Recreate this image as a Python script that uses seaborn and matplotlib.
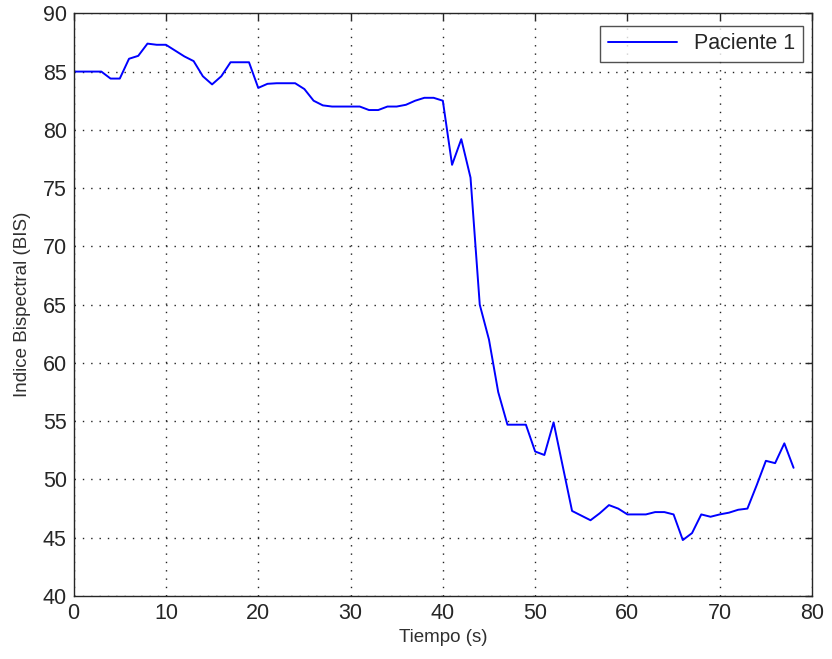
import matplotlib
matplotlib.use("Agg")
import matplotlib.pyplot as plt
import seaborn as sns
import pandas as pd

tiempo = list(range(0, 79))
bis = [85.0, 85.0, 85.0, 85.0, 84.4, 84.4, 86.1, 86.35, 87.4, 87.3,
       87.3, 86.8, 86.3, 85.9, 84.6, 83.9, 84.6, 85.8, 85.8, 85.8,
       83.6, 83.95, 84.0, 84.0, 84.0, 83.5, 82.5, 82.1, 82.0, 82.0,
       82.0, 82.0, 81.7, 81.7, 82.0, 82.0, 82.15, 82.5, 82.75, 82.75,
       82.5, 77.0, 79.2, 75.9, 65.0, 62.0, 57.5, 54.7, 54.7, 54.7,
       52.4, 52.1, 54.9, 51.1, 47.3, 46.9, 46.5, 47.1, 47.8, 47.5,
       47.0, 47.0, 47.0, 47.2, 47.2, 47.0, 44.8, 45.4, 47.0, 46.8,
       47.0, 47.15, 47.4, 47.5, 49.5, 51.6, 51.4, 53.1, 51.0]
serie = "Paciente 1"
x_ticks = list(range(0, 81, 10))
y_ticks = list(range(40, 91, 5))

df = pd.DataFrame({"Tiempo": tiempo, "BIS": bis, "Serie": serie})

sns.set_style("white")
plt.rcParams['font.family'] = ['Liberation Sans', 'DejaVu Sans']

fig = plt.figure(figsize=(8.32, 6.59), dpi=100)
ax = fig.add_axes([0.0885, 0.0956, 0.8875, 0.8842])

sns.lineplot(data=df, x="Tiempo", y="BIS", hue="Serie", palette=["#0000ff"],
             linewidth=1.4, ax=ax)

ax.set_xlim(0, 80)
ax.set_ylim(40, 90)
ax.set_xticks(x_ticks)
ax.set_yticks(y_ticks)
ax.grid(True, color="#222222", linestyle=(0, (1, 5)), linewidth=1.0)
for s in ax.spines.values():
    s.set_color("#262626")
    s.set_linewidth(1.0)
ax.tick_params(direction="in", length=5, width=1.0, colors="#262626",
               labelsize=15.5, labelcolor="#262626",
               top=True, right=True, pad=5)
ax.set_xlabel("Tiempo (s)", fontsize=13.5, color="#303030", labelpad=4)
ax.set_ylabel("Indice Bispectral (BIS)", fontsize=13.5, color="#303030", labelpad=8)

leg = ax.legend(loc="upper right", fontsize=15.5, handlelength=3.2,
                frameon=True, fancybox=False, borderpad=0.35,
                bbox_to_anchor=(0.9875, 0.979), borderaxespad=0.0)
leg.get_frame().set_edgecolor("#262626")
leg.get_frame().set_linewidth(1.0)
leg.set_title(None)

fig.savefig("out.png", dpi=100, facecolor="white")
